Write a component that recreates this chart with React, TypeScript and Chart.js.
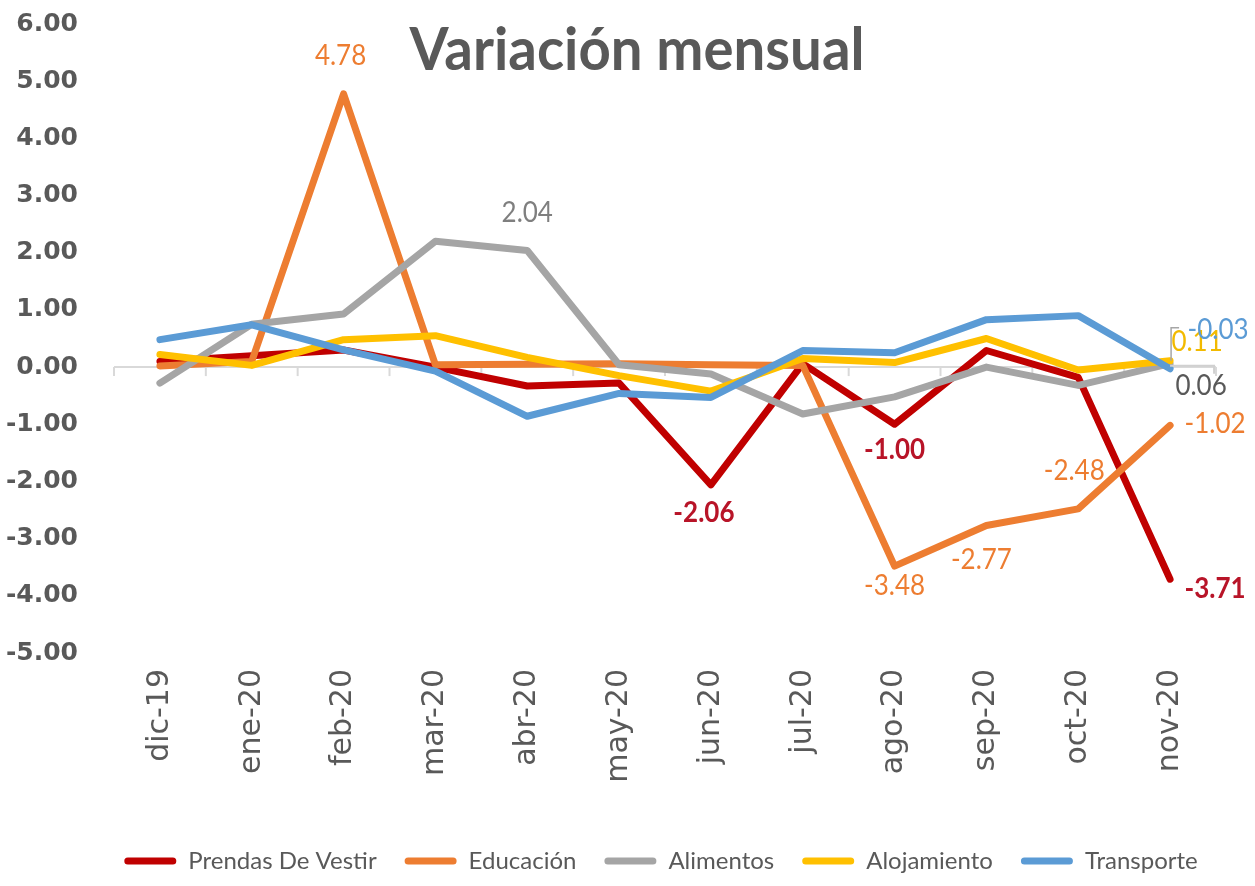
import React, { useEffect, useRef } from "react";
import { Chart, registerables } from "chart.js";

Chart.register(...registerables);

const categories = ["dic-19", "ene-20", "feb-20", "mar-20", "abr-20", "may-20", "jun-20", "jul-20", "ago-20", "sep-20", "oct-20", "nov-20"];

const prendasDeVestir = [0.1, 0.2, 0.3, 0.0, -0.33, -0.28, -2.06, 0.06, -1.0, 0.29, -0.18, -3.71];
const educacion = [0.02, 0.1, 4.78, 0.04, 0.05, 0.06, 0.04, 0.03, -3.48, -2.77, -2.48, -1.02];
const alimentos = [-0.28, 0.75, 0.93, 2.2, 2.04, 0.04, -0.12, -0.82, -0.52, 0.0, -0.32, 0.06];
const alojamiento = [0.22, 0.03, 0.48, 0.55, 0.17, -0.15, -0.42, 0.15, 0.08, 0.5, -0.05, 0.11];
const transporte = [0.48, 0.74, 0.3, -0.07, -0.86, -0.46, -0.53, 0.29, 0.25, 0.83, 0.9, -0.03];

const seriesNames = ["Prendas De Vestir", "Educación", "Alimentos", "Alojamiento", "Transporte"];
const seriesValues = [prendasDeVestir, educacion, alimentos, alojamiento, transporte];
const seriesColors = ["#C00000", "#ED7D31", "#A5A5A5", "#FFC000", "#5B9BD5"];
const labelColors = ["#B81428", "#ED7D31", "#7F7F7F", "#F2BA00", "#5B9BD5"];

const yMin = -5;
const yMax = 6;
const yStep = 1;

const titleText = "Variación mensual";

// [series, point] pairs that carry a data label
const labelPoints = [[0, 6], [0, 8], [0, 11], [1, 2], [1, 8], [1, 9], [1, 10], [1, 11], [2, 4], [2, 11], [3, 11], [4, 11]];
// label offsets from the point (style)
const labelOffsets = [[-7, 28], [0, 25], [45, 9], [-3, -38], [0, 20], [-5, 34], [-4, -38], [45, -2], [0, -38], [31, 22], [27, -19], [48, -39]];

const zeroAxisPlugin = {
  id: "zeroAxisTicks",
  beforeDatasetsDraw(chart: any) {
    const xs = chart.scales.x;
    const ys = chart.scales.y;
    const ctx = chart.ctx;
    const y0 = ys.getPixelForValue(0);
    const n = categories.length;
    const half = (xs.getPixelForValue(1) - xs.getPixelForValue(0)) / 2;
    ctx.save();
    ctx.strokeStyle = "#D9D9D9";
    ctx.lineWidth = 2;
    for (let i = 0; i <= n; i++) {
      const x = i < n ? xs.getPixelForValue(i) - half : xs.getPixelForValue(n - 1) + half;
      ctx.beginPath();
      ctx.moveTo(x, y0);
      ctx.lineTo(x, y0 + 9);
      ctx.stroke();
    }
    ctx.restore();
  },
};

const legendShiftPlugin = {
  id: "legendShift",
  afterLayout(chart: any) {
    const lg = chart.legend;
    if (!lg) return;
    const target = 661;
    const delta = target - (lg.left + lg.right) / 2;
    lg.left += delta;
    lg.right += delta;
  },
};

const dataLabelPlugin = {
  id: "dataLabels",
  afterDatasetsDraw(chart: any) {
    const ctx = chart.ctx;
    const ptAloj = chart.getDatasetMeta(3).data[11];
    const ptAlim = chart.getDatasetMeta(2).data[11];
    ctx.save();
    ctx.strokeStyle = "#A6A6A6";
    ctx.lineWidth = 1.5;
    ctx.beginPath();
    ctx.moveTo(ptAloj.x + 1, ptAloj.y);
    ctx.lineTo(ptAloj.x + 1, ptAloj.y - 33);
    ctx.lineTo(ptAloj.x + 9, ptAloj.y - 33);
    ctx.stroke();
    ctx.strokeStyle = "#D0D0D0";
    ctx.lineWidth = 2;
    ctx.beginPath();
    ctx.moveTo(ptAlim.x, ptAlim.y + 2);
    ctx.lineTo(ptAlim.x + 44, ptAlim.y + 2);
    ctx.lineTo(ptAlim.x + 44, ptAlim.y + 10);
    ctx.stroke();
    ctx.restore();

    labelPoints.forEach(([s, i], k) => {
      const pt = chart.getDatasetMeta(s).data[i];
      const [dx, dy] = labelOffsets[k];
      const v = seriesValues[s][i];
      ctx.save();
      ctx.font = (s === 0 ? "bold " : "") + "26px Lato, 'Open Sans', sans-serif";
      ctx.fillStyle = s === 2 && i === 11 ? "#595959" : labelColors[s];
      ctx.textAlign = "center";
      ctx.textBaseline = "middle";
      ctx.translate(pt.x + dx, pt.y + dy);
      ctx.scale(1, 1.12);
      ctx.fillText(v.toFixed(2), 0, 0);
      ctx.restore();
    });
  },
};

const titlePlugin = {
  id: "overlayTitle",
  afterDraw(chart: any) {
    const ctx = chart.ctx;
    ctx.save();
    ctx.font = "bold 100px Lato, 'Open Sans', sans-serif";
    const w100 = ctx.measureText(titleText).width;
    const size = (100 * 455) / w100;
    const sy = Math.min(1.2, 43 / (0.72 * size));
    ctx.font = `bold ${size}px Lato, 'Open Sans', sans-serif`;
    ctx.fillStyle = "#595959";
    ctx.textAlign = "center";
    ctx.textBaseline = "alphabetic";
    ctx.translate(637, 70);
    ctx.scale(1, sy);
    ctx.fillText(titleText, 0, 0);
    ctx.restore();
  },
};

export default function App() {
  const ref = useRef<HTMLCanvasElement | null>(null);

  useEffect(() => {
    document.body.style.margin = "0";
    if (!ref.current) return;
    const chart = new Chart(ref.current, {
      type: "line",
      data: {
        labels: categories,
        datasets: seriesNames.map((name, k) => ({
          label: name,
          data: seriesValues[k],
          borderColor: seriesColors[k],
          backgroundColor: seriesColors[k],
          borderWidth: 7,
          borderJoinStyle: "round" as const,
          borderCapStyle: "round" as const,
          pointRadius: 0,
          pointHoverRadius: 0,
          tension: 0,
          fill: false,
          order: seriesNames.length - 1 - k,
        })),
      },
      options: {
        animation: false,
        responsive: true,
        maintainAspectRatio: false,
        layout: { padding: { left: 0, right: 39, top: 24, bottom: 3 } },
        plugins: {
          title: { display: false },
          tooltip: { enabled: false },
          legend: {
            position: "bottom",
            labels: {
              boxWidth: 52,
              boxHeight: 7,
              useBorderRadius: true,
              borderRadius: 3.5,
              padding: 28,
              color: "#595959",
              font: { family: "Lato, 'Open Sans', sans-serif", size: 24 },
              sort: (a: any, b: any) => a.datasetIndex - b.datasetIndex,
              generateLabels: (chart: any) =>
                Chart.defaults.plugins.legend.labels
                  .generateLabels(chart)
                  .map((l: any) => ({ ...l, lineWidth: 0, strokeStyle: l.fillStyle })),
            },
          },
        },
        scales: {
          x: {
            offset: true,
            grid: { display: false },
            border: { display: false },
            ticks: {
              minRotation: 90,
              maxRotation: 90,
              padding: 8,
              color: "#595959",
              font: { family: "'DejaVu Sans', sans-serif", size: 30 },
            },
            afterFit: (s: any) => {
              s.height = 168;
            },
          },
          y: {
            min: yMin,
            max: yMax,
            border: { display: false },
            grid: {
              drawTicks: true,
              tickLength: 36,
              tickColor: "rgba(0,0,0,0)",
              lineWidth: 2,
              color: (c: any) => (c.tick && c.tick.value === 0 ? "#D9D9D9" : "rgba(0,0,0,0)"),
            },
            ticks: {
              stepSize: yStep,
              padding: 0,
              color: "#595959",
              font: { family: "'DejaVu Sans', sans-serif", size: 25, weight: "bold" },
              callback: (v: any) => Number(v).toFixed(2),
            },
            afterFit: (s: any) => {
              s.width = 114;
            },
          },
        },
      },
      plugins: [zeroAxisPlugin, legendShiftPlugin, dataLabelPlugin, titlePlugin],
    });
    return () => chart.destroy();
  }, []);

  return (
    <div style={{ width: 1255, height: 886, position: "relative", background: "#fff" }}>
      <canvas ref={ref} />
    </div>
  );
}
